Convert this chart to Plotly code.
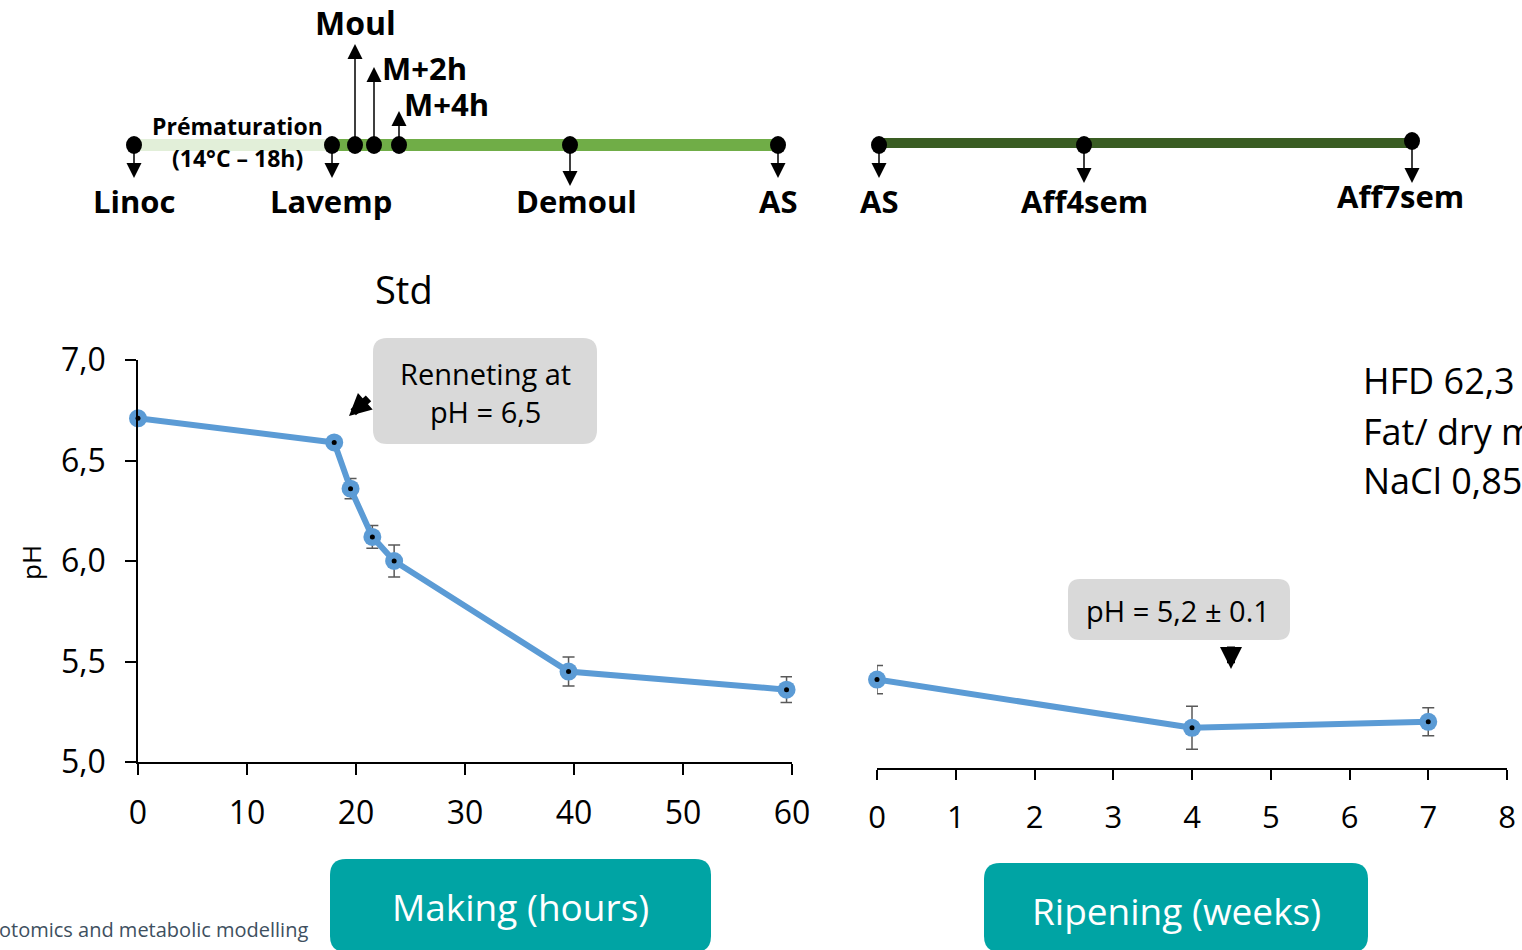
import plotly.graph_objects as go

W, H = 1522, 950

# ---------------- data ----------------
making_hours = [0, 18, 19.5, 21.5, 23.5, 39.5, 59.5]
making_ph = [6.71, 6.59, 6.36, 6.12, 6.00, 5.45, 5.36]
making_err = [0, 0, 0.05, 0.057, 0.08, 0.072, 0.064]

ripening_weeks = [0, 4, 7]
ripening_ph = [5.41, 5.17, 5.20]
ripening_err = [0.07, 0.107, 0.07]

ph_ticks = [5.0, 5.5, 6.0, 6.5, 7.0]
ph_ticklabels = ["5,0", "5,5", "6,0", "6,5", "7,0"]
hour_ticks = [0, 10, 20, 30, 40, 50, 60]
week_ticks = [0, 1, 2, 3, 4, 5, 6, 7, 8]

# timeline stages
making_stages = ["Linoc", "Lavemp", "Demoul", "AS"]
ripening_stages = ["AS", "Aff4sem", "Aff7sem"]
up_stages = ["Moul", "M+2h", "M+4h"]

BLUE = "#5b9bd5"
TEAL = "#00a4a4"
FONT = "Open Sans, DejaVu Sans, sans-serif"


def px(x):
    return x / W


def py(y):
    return 1 - y / H


fig = go.Figure()

# ---------------- data traces ----------------
fig.add_trace(go.Scatter(
    x=making_hours, y=making_ph, mode="lines+markers",
    line=dict(color=BLUE, width=6),
    marker=dict(size=18, color=BLUE),
    error_y=dict(type="data", array=making_err, visible=True,
                 color="#595959", thickness=1.5, width=6),
    xaxis="x", yaxis="y", cliponaxis=False, showlegend=False, hoverinfo="x+y"))
fig.add_trace(go.Scatter(
    x=making_hours, y=making_ph, mode="markers",
    marker=dict(size=5, color="black"),
    xaxis="x", yaxis="y", cliponaxis=False, showlegend=False, hoverinfo="skip"))

fig.add_trace(go.Scatter(
    x=ripening_weeks, y=ripening_ph, mode="lines+markers",
    line=dict(color=BLUE, width=6),
    marker=dict(size=18, color=BLUE),
    error_y=dict(type="data", array=ripening_err, visible=True,
                 color="#595959", thickness=1.5, width=6),
    xaxis="x2", yaxis="y2", cliponaxis=False, showlegend=False, hoverinfo="x+y"))
fig.add_trace(go.Scatter(
    x=ripening_weeks, y=ripening_ph, mode="markers",
    marker=dict(size=5, color="black"),
    xaxis="x2", yaxis="y2", cliponaxis=False, showlegend=False, hoverinfo="skip"))

axis_common = dict(showgrid=False, zeroline=False, showline=True,
                   linecolor="black", linewidth=1.5, ticks="outside",
                   tickcolor="black", tickwidth=1.5, automargin=False)

fig.update_layout(
    width=W, height=H, autosize=False,
    margin=dict(l=0, r=0, t=0, b=0, pad=0, autoexpand=False),
    paper_bgcolor="white", plot_bgcolor="white",
    showlegend=False,
    xaxis=dict(domain=[px(138), px(792)], range=[0, 60], tickvals=hour_ticks,
               ticklen=11, anchor="y", ticklabelstandoff=11,
               tickfont=dict(family=FONT, size=32, color="black"), **axis_common),
    yaxis=dict(domain=[py(762), py(360)], range=[5.0, 7.0], tickvals=ph_ticks,
               ticktext=ph_ticklabels, ticklen=11, anchor="x",
               ticklabelstandoff=13,
               tickfont=dict(family=FONT, size=32, color="black"), **axis_common),
    xaxis2=dict(domain=[px(877), px(1507)], range=[0, 8], tickvals=week_ticks,
                ticklen=10, anchor="y2", ticklabelstandoff=11,
                tickfont=dict(family=FONT, size=31, color="black"), **axis_common),
    yaxis2=dict(domain=[py(768), py(360)], range=[7.0 - 408 / 201, 7.0],
                anchor="x2", visible=False, automargin=False),
)

shapes = []
annotations = []


def rounded_rect(x0, y0, x1, y1, r, color):
    # pixel coords -> paper path with rounded corners
    rx, ry = r / W, r / H
    X0, X1 = px(x0), px(x1)
    Y0, Y1 = py(y0), py(y1)  # Y0 top (larger), Y1 bottom
    path = (f"M {X0+rx},{Y0} L {X1-rx},{Y0} Q {X1},{Y0} {X1},{Y0-ry} "
            f"L {X1},{Y1+ry} Q {X1},{Y1} {X1-rx},{Y1} "
            f"L {X0+rx},{Y1} Q {X0},{Y1} {X0},{Y1+ry} "
            f"L {X0},{Y0-ry} Q {X0},{Y0} {X0+rx},{Y0} Z")
    return dict(type="path", xref="paper", yref="paper", path=path,
                fillcolor=color, line=dict(width=0), layer="below")


def text(x, y, s, size, color="black", bold=False, xanchor="center", family=FONT, angle=0):
    return dict(x=px(x), y=py(y), xref="paper", yref="paper", text=(f"<b>{s}</b>" if bold else s),
                showarrow=False, xanchor=xanchor, yanchor="middle", textangle=angle,
                font=dict(family=family, size=size, color=color))


def arrow(x, y_tail, y_head, width=1.5, size=2.0):
    return dict(x=px(x), y=py(y_head), xref="paper", yref="paper", text="",
                showarrow=True, ax=0, ay=y_tail - y_head, axref="pixel", ayref="pixel",
                arrowhead=2, arrowsize=size, arrowwidth=width, arrowcolor="black")


# ---------------- timeline ----------------
shapes.append(dict(type="line", xref="paper", yref="paper", x0=px(134), x1=px(332),
                   y0=py(145), y1=py(145), line=dict(color="#e2efd9", width=12)))
shapes.append(dict(type="line", xref="paper", yref="paper", x0=px(332), x1=px(778),
                   y0=py(145), y1=py(145), line=dict(color="#70ad47", width=12)))
shapes.append(dict(type="line", xref="paper", yref="paper", x0=px(879), x1=px(1412),
                   y0=py(143), y1=py(143), line=dict(color="#3a5d23", width=10)))

dots = [(134, 145), (332, 145), (355, 145), (374, 145), (399, 145), (570, 145),
        (778, 145), (879, 145), (1084, 145), (1412, 141)]
for cx, cy in dots:
    shapes.append(dict(type="circle", xref="paper", yref="paper",
                       x0=px(cx - 8), x1=px(cx + 8), y0=py(cy + 9), y1=py(cy - 9),
                       fillcolor="black", line=dict(width=0)))

for x, yt, yh in [(134, 145, 178), (332, 145, 178), (570, 145, 186), (778, 145, 178),
                  (879, 145, 178), (1084, 145, 183), (1412, 141, 183),
                  (355, 145, 44), (374, 145, 67), (399, 145, 111)]:
    annotations.append(arrow(x, yt, yh))

lab_pos = [(134, 201), (331, 201), (576, 201), (778, 201)]
for s, (x, y) in zip(making_stages, lab_pos):
    annotations.append(text(x, y, s, 31, bold=True))
for s, (x, y) in zip(ripening_stages, [(879, 201), (1084, 201), (1400, 196)]):
    annotations.append(text(x, y, s, 31, bold=True))
annotations.append(text(355, 23, up_stages[0], 32, bold=True))
annotations.append(text(380, 68, up_stages[1], 31, bold=True, xanchor="left"))
annotations.append(text(402, 104, up_stages[2], 31, bold=True, xanchor="left"))
annotations.append(text(238, 126, "Prématuration", 23, bold=True))
annotations.append(text(238, 158, "(14°C – 18h)", 23, bold=True))

# ---------------- chart labels ----------------
annotations.append(text(404, 289, "Std", 38))
annotations.append(text(31, 562, "pH", 26, angle=-90))

shapes.append(rounded_rect(373, 338, 597, 444, 14, "#d9d9d9"))
annotations.append(dict(x=px(485), y=py(392), xref="paper", yref="paper",
                        text="Renneting at<br>pH = 6,5", showarrow=False,
                        xanchor="center", yanchor="middle",
                        font=dict(family=FONT, size=29, color="black")))
annotations.append(dict(x=px(349), y=py(416), xref="paper", yref="paper", text="",
                        showarrow=True, ax=21, ay=-19, axref="pixel", ayref="pixel",
                        arrowhead=2, arrowsize=0.55, arrowwidth=8, arrowcolor="black"))

shapes.append(rounded_rect(1068, 579, 1290, 640, 12, "#d9d9d9"))
annotations.append(text(1178, 610, "pH = 5,2 ± 0.1", 29))
annotations.append(dict(x=px(1231), y=py(669), xref="paper", yref="paper", text="",
                        showarrow=True, ax=0, ay=-24, axref="pixel", ayref="pixel",
                        arrowhead=2, arrowsize=0.55, arrowwidth=8, arrowcolor="black"))

for s, y in [("HFD 62,3 %", 381), ("Fat/ dry matter", 431), ("NaCl 0,85 %", 481)]:
    annotations.append(text(1361, y, s, 36, xanchor="left"))

# ---------------- bottom boxes ----------------
shapes.append(rounded_rect(330, 859, 711, 952, 16, TEAL))
annotations.append(text(520, 906, "Making (hours)", 37, color="white"))
shapes.append(rounded_rect(984, 863, 1368, 952, 16, TEAL))
annotations.append(text(1176, 910, "Ripening (weeks)", 37, color="white"))
annotations.append(text(-3, 929, "otomics and metabolic modelling", 20,
                        color="#3e5060", xanchor="left"))

fig.update_layout(shapes=shapes, annotations=annotations)

fig.write_html(
    "out.html",
    config={"displayModeBar": False},
    post_script="document.body.style.margin='0';document.body.style.overflow='hidden';",
)
